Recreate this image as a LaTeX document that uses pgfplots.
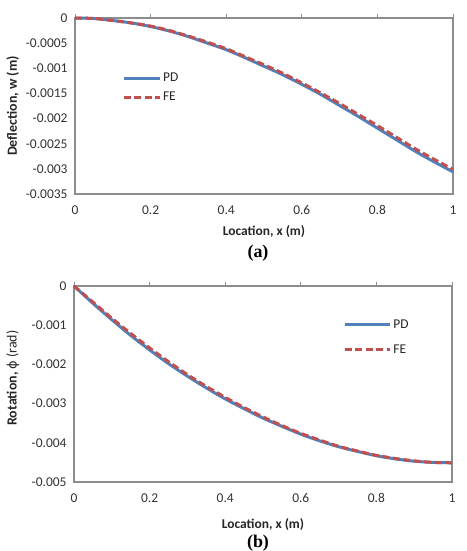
\documentclass[border=0pt]{standalone}
\usepackage{pgfplots}
\pgfplotsset{compat=1.18}
\usepackage{fontspec}
\setmainfont{Carlito}
\newfontfamily\dejavu{DejaVu Sans}
\newfontfamily\timesfont{Liberation Serif}
\definecolor{pdblue}{HTML}{4F81BD}
\definecolor{fered}{HTML}{C0504D}
\definecolor{framegray}{HTML}{8C8C8C}

\pgfplotstableread{
x w
0 0
0.05 -0.00001
0.1 -0.00005
0.15 -0.0001
0.2 -0.00017
0.25 -0.00026
0.3 -0.00037
0.35 -0.0005
0.4 -0.00063
0.45 -0.00079
0.5 -0.00096
0.55 -0.00113
0.6 -0.00132
0.65 -0.00152
0.7 -0.00174
0.75 -0.00196
0.8 -0.00219
0.85 -0.00242
0.9 -0.00265
0.95 -0.00286
1.0 -0.00306
}\defPD
\pgfplotstableread{
x w
0 0
0.05 -0.00001
0.1 -0.00005
0.15 -0.0001
0.2 -0.00016
0.25 -0.00025
0.3 -0.00036
0.35 -0.00048
0.4 -0.00061
0.45 -0.00077
0.5 -0.00093
0.55 -0.0011
0.6 -0.00129
0.65 -0.00149
0.7 -0.0017
0.75 -0.00192
0.8 -0.00214
0.85 -0.00237
0.9 -0.0026
0.95 -0.00281
1.0 -0.00301
}\defFE
\pgfplotstableread{
x p
0 0
0.05 -0.00044
0.1 -0.00086
0.15 -0.00126
0.2 -0.00163
0.25 -0.00198
0.3 -0.0023
0.35 -0.0026
0.4 -0.00288
0.45 -0.00313
0.5 -0.00337
0.55 -0.00358
0.6 -0.00378
0.65 -0.00395
0.7 -0.0041
0.75 -0.00422
0.8 -0.00433
0.85 -0.00441
0.9 -0.00447
0.95 -0.0045
1.0 -0.00451
}\rotPD
\pgfplotstableread{
x p
0 0
0.05 -0.00041
0.1 -0.00082
0.15 -0.00121
0.2 -0.00158
0.25 -0.00193
0.3 -0.00226
0.35 -0.00256
0.4 -0.00284
0.45 -0.0031
0.5 -0.00334
0.55 -0.00356
0.6 -0.00376
0.65 -0.00393
0.7 -0.00409
0.75 -0.00421
0.8 -0.00432
0.85 -0.0044
0.9 -0.00446
0.95 -0.0045
1.0 -0.00451
}\rotFE

\pgfplotsset{
  common/.style={
    scale only axis,
    width=378bp,
    xmin=0, xmax=1,
    xtick={0,0.2,0.4,0.6,0.8,1},
    xticklabels={0,0.2,0.4,0.6,0.8,1},
    xtick pos=upper,
    xticklabel pos=lower,
    scaled y ticks=false,
    tick align=outside,
    major tick length=4bp,
    ytick style={draw=none},
    xtick style={framegray, line width=0.8bp},
    axis line style={framegray, line width=1.3bp},
    ticklabel style={font=\fontsize{13.5}{15}\selectfont, text=black!80},
    xticklabel style={yshift=-4bp},
    clip=false,
    legend style={draw=none, fill=none, inner sep=0pt, font=\fontsize{13.5}{15}\selectfont, text=black!85, legend cell align=left},
    pdstyle/.style={pdblue, line width=3bp, smooth},
    festyle/.style={fered, line width=3bp, smooth, dash pattern=on 7bp off 3.5bp},
  }
}

\begin{document}
\begin{tikzpicture}
\path[use as bounding box] (0,0) rectangle (467bp,551bp);

\begin{axis}[common,
  at={(75bp,357bp)}, anchor=south west,
  height=176bp,
  ymin=-0.0035, ymax=0,
  ytick={-0.0035,-0.003,-0.0025,-0.002,-0.0015,-0.001,-0.0005,0},
  yticklabels={-0.0035,-0.003,-0.0025,-0.002,-0.0015,-0.001,-0.0005,0},
  xlabel={Location, x (m)},
  ylabel={Deflection, w (m)},
  every axis x label/.style={at={(axis description cs:0.5,-0.216)}, anchor=center, font=\bfseries\fontsize{13.5}{15}\selectfont, text=black!85},
  every axis y label/.style={at={(axis description cs:-0.165,0.5)}, anchor=center, rotate=90, font=\bfseries\fontsize{14}{16}\selectfont, text=black!85},
  legend image code/.code={\draw[#1] (0bp,0bp) -- (36bp,0bp);},
  legend style={at={(axis description cs:0.124,0.70)}, anchor=north west, row sep=5bp},
]
\addplot[pdstyle] table[x=x,y=w] {\defPD};
\addlegendentry{PD}
\addplot[festyle] table[x=x,y=w] {\defFE};
\addlegendentry{FE}
\end{axis}

\node[font=\timesfont\bfseries\fontsize{18}{20}\selectfont] at (258bp,298bp) {(a)};

\begin{axis}[common,
  at={(74bp,69bp)}, anchor=south west,
  height=196bp,
  ymin=-0.005, ymax=0,
  ytick={-0.005,-0.004,-0.003,-0.002,-0.001,0},
  yticklabels={-0.005,-0.004,-0.003,-0.002,-0.001,0},
  xlabel={Location, x (m)},
  ylabel={Rotation, {\mdseries{\dejavu\fontsize{13}{15}\selectfont ϕ} (rad)}},
  every axis x label/.style={at={(axis description cs:0.5,-0.219)}, anchor=center, font=\bfseries\fontsize{13.5}{15}\selectfont, text=black!85},
  every axis y label/.style={at={(axis description cs:-0.162,0.53)}, anchor=center, rotate=90, font=\bfseries\fontsize{14}{16}\selectfont, text=black!85},
  legend image code/.code={\draw[#1] (0bp,0bp) -- (45bp,0bp);},
  legend style={at={(axis description cs:0.712,0.84)}, anchor=north west, row sep=11bp},
]
\addplot[pdstyle] table[x=x,y=p] {\rotPD};
\addlegendentry{PD}
\addplot[festyle] table[x=x,y=p] {\rotFE};
\addlegendentry{FE}
\end{axis}

\node[font=\timesfont\bfseries\fontsize{18}{20}\selectfont] at (258bp,8bp) {(b)};
\end{tikzpicture}
\end{document}
